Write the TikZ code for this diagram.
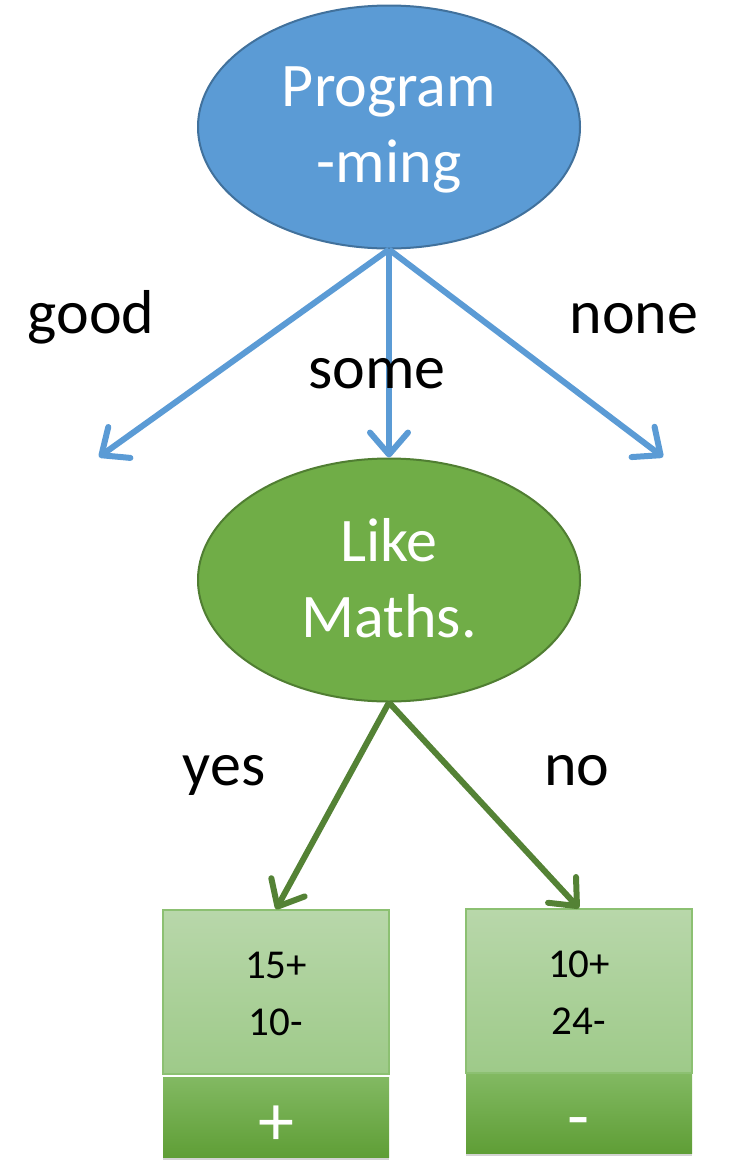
\documentclass[tikz,border=0pt]{standalone}
\usepackage{fontspec}
\setmainfont{Carlito}
\usetikzlibrary{shapes.geometric,arrows.meta,shadows}
\definecolor{bluefill}{HTML}{5B9BD5}
\definecolor{blueline}{HTML}{41719C}
\definecolor{greenfill}{HTML}{70AD47}
\definecolor{greenline}{HTML}{507E32}
\definecolor{greenarrow}{HTML}{548235}
\definecolor{leaftop}{HTML}{B8D7AA}
\definecolor{leafbot}{HTML}{9ECA89}
\definecolor{leafline}{HTML}{8CC072}
\definecolor{restop}{HTML}{82B962}
\definecolor{resbot}{HTML}{5F9E36}
\tikzset{
  ell/.style={ellipse, minimum width=382pt, minimum height=243pt, inner sep=0pt, line width=2pt},
  elltext/.style={text=white, align=center, font=\fontsize{62}{76}\selectfont},
  lbl/.style={anchor=base, font=\fontsize{62}{72}\selectfont},
  barrow/.style={-{Straight Barb[length=22pt,width=38pt,round]}, line width=6pt, color=bluefill},
  garrow/.style={-{Straight Barb[length=22pt,width=38pt,round]}, line width=6pt, color=greenarrow},
  leafbox/.style={rectangle, minimum width=226pt, minimum height=164pt, inner sep=0pt, top color=leaftop, bottom color=leafbot, draw=leafline, line width=1.5pt},
  leaftext/.style={align=center, font=\fontsize{41}{57}\selectfont},
  resbox/.style={rectangle, minimum width=226pt, minimum height=80pt, inner sep=0pt, top color=restop, bottom color=resbot, drop shadow={shadow xshift=0pt, shadow yshift=-3pt, opacity=0.35}},
  restext/.style={text=white, inner sep=0pt, font=\fontsize{72}{72}\selectfont}
}
\begin{document}
\begin{tikzpicture}[x=1pt,y=-1pt]
\useasboundingbox (0,0) rectangle (730,1160);
\node[ell, fill=bluefill, draw=blueline, label={[elltext, yshift=-3pt]center:{Program\\-ming}}] (prog) at (389,127) {};
\node[ell, fill=greenfill, draw=greenline, label={[elltext, yshift=2pt]center:{Like\\Maths.}}] (maths) at (389,580) {};
\coordinate (goodend) at (99,457);
\coordinate (noneend) at (663,457);
\draw[barrow] (prog.south) -- (goodend);
\draw[barrow] (prog.south) -- (maths.north);
\draw[barrow] (prog.south) -- (noneend);
\node[lbl] (good) at (91,333) {good};
\node[lbl] (some) at (377,388) {some};
\node[lbl] (none) at (634,333) {none};
\node[resbox, label={[restext, yshift=-8.5pt]center:+}] (resA) at (276,1117.5) {};
\node[resbox, label={[restext, yshift=-16pt]center:-}] (resB) at (579,1113) {};
\node[leafbox, label={[leaftext, yshift=-2pt]center:{15+\\10-}}] (leafA) at (276,992) {};
\node[leafbox, label={[leaftext, yshift=-2pt]center:{10+\\24-}}] (leafB) at (579,991) {};
\draw[garrow] (maths.south) -- (leafA.north);
\draw[garrow] (maths.south) -- (leafB.north);
\node[lbl] (yes) at (224,785) {yes};
\node[lbl] (no) at (577,785) {no};
\end{tikzpicture}
\end{document}
